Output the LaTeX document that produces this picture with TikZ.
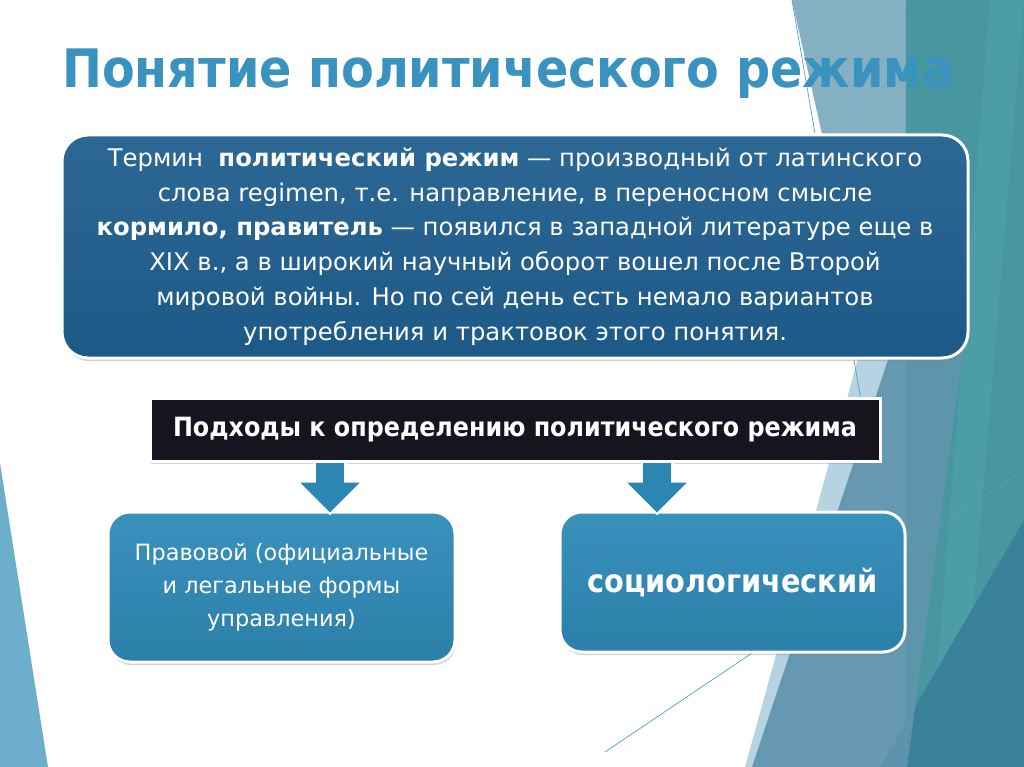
\documentclass[tikz,border=0pt]{standalone}
\usepackage{fontspec}
\setmainfont{DejaVu Sans}
\newfontfamily\narrowfont{DejaVu Sans Condensed}
\usepackage{xcolor}
\usepackage{tikz}
\usetikzlibrary{positioning,shadows,arrows.meta}
\definecolor{titleblue}{HTML}{3A92BF}
\definecolor{termblue}{HTML}{1F5E8E}
\definecolor{headblack}{HTML}{16151F}
\definecolor{subblue}{HTML}{2F8BB8}
\definecolor{arrowblue}{HTML}{2C86B2}
\definecolor{facetsteel}{HTML}{85AFC3}
\definecolor{facetteal}{HTML}{4796A0}
\definecolor{facetlight}{HTML}{5DB0BE}
\definecolor{facetdark}{HTML}{3A8199}
\definecolor{facetpale}{HTML}{A3C8DA}
\definecolor{facetgray}{HTML}{5F95AE}
\definecolor{facetleft}{HTML}{6CAECB}

\begin{document}
\begin{tikzpicture}[
		x=1pt, y=-1pt,
		Facet/.style={draw=none},
		FacetLine/.style={draw=arrowblue!80, line width=0.7pt},
		MainBox/.style={draw=white, line width=3pt, rounded corners=26pt, text=white, align=center,
			drop shadow={shadow xshift=1pt, shadow yshift=-3pt, opacity=0.35}},
		HeadBox/.style={draw=white, line width=3pt, fill=headblack, text=white, align=center,
			drop shadow={shadow xshift=1pt, shadow yshift=-3pt, opacity=0.35}},
		ArrowRim/.style={draw=white, line width=33pt, -{Triangle[width=66pt, length=34pt]}},
		DownArrow/.style={draw=arrowblue, line width=28pt, -{Triangle[width=58pt, length=30pt]}}
		]
		
		\useasboundingbox[fill=white] (0,0) rectangle (1024,767);
		
		% background facets
		\fill[Facet, facetsteel] (792,0) -- (908,0) -- (950,340) -- (868,340) -- cycle;
		\fill[Facet, facetteal] (906,0) -- (1024,0) -- (1024,767) -- (905,767) -- cycle;
		\fill[Facet, facetlight, opacity=0.3] (990,0) -- (1024,0) -- (960,767) -- (930,767) -- cycle;
		\fill[Facet, facetdark] (1024,520) -- (1024,767) -- (880,767) -- cycle;
		\fill[Facet, facetpale, opacity=0.8] (866,330) -- (900,330) -- (760,767) -- (745,767) -- cycle;
		\fill[Facet, facetgray, opacity=0.95] (898,330) -- (966,330) -- (907,767) -- (752,767) -- cycle;
		\draw[FacetLine] (792,0) -- (885,540);
		\draw[FacetLine] (605,752) -- (1024,470);
		\fill[Facet, facetleft] (0,463) -- (48,767) -- (0,767) -- cycle;
		
		\node[anchor=base west, inner sep=0pt, text=titleblue, font=\narrowfont\fontsize{53}{53}\selectfont\bfseries] (title) at (62,88) {Понятие политического режима};
		
		\node[MainBox, top color=termblue!94!white, bottom color=termblue!95!black, minimum width=906pt, minimum height=223pt,
			font=\fontsize{24.3}{34.7}\selectfont] (term) at (515,246.5)
		{Термин\ \ \textbf{политический режим} — производный от латинского\\
			слова regimen, т.е. направление, в переносном смысле\\
			\textbf{кормило, правитель} — появился в западной литературе еще в\\
			XIX в., а в широкий научный оборот вошел после Второй\\
			мировой войны. Но по сей день есть немало вариантов\\
			употребления и трактовок этого понятия.};
		
		\node[HeadBox, minimum width=730pt, minimum height=63pt, font=\narrowfont\fontsize{26.5}{26.5}\selectfont\bfseries] (approach) at (515,429.5)
		{Подходы к определению политического режима};
		
		\node[MainBox, rounded corners=22pt, top color=subblue!95!white, bottom color=subblue!92!black,
			minimum width=347pt, minimum height=150pt, font=\fontsize{22.4}{33}\selectfont] (legal) at (281.5,587)
		{Правовой (официальные\\ и легальные формы\\ управления)};
		
		\node[MainBox, rounded corners=22pt, top color=subblue!95!white, bottom color=subblue!92!black,
			minimum width=345pt, minimum height=140pt, font=\narrowfont\fontsize{32}{32}\selectfont\bfseries] (socio) at (732.5,582)
		{социологический};
		
		% arrows from the heading to both approaches
		\coordinate (la) at ([xshift=-185pt]approach.south);
		\coordinate (ra) at ([xshift=142pt]approach.south);
		\draw[ArrowRim] ([yshift=1pt]la) -- ([yshift=-5pt]la |- legal.north);
		\draw[DownArrow] (la) -- ([yshift=-2pt]la |- legal.north);
		\draw[ArrowRim] ([yshift=1pt]ra) -- ([yshift=-5pt]ra |- socio.north);
		\draw[DownArrow] (ra) -- ([yshift=-2pt]ra |- socio.north);
		
\end{tikzpicture}
\end{document}
